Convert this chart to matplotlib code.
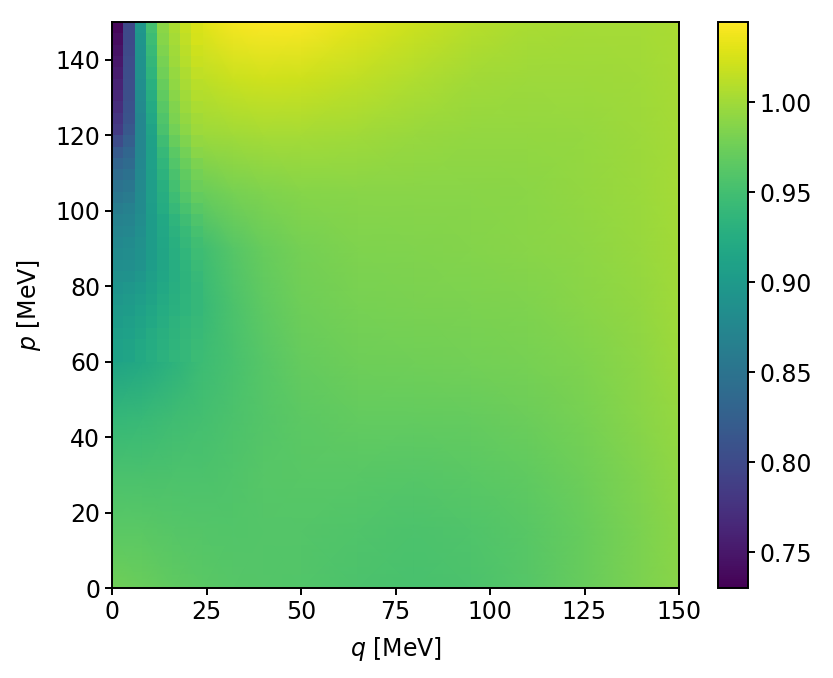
"""Heat map of the ratio over (q, p): smooth mesh everywhere, fine cells at low q and high p."""
import numpy as np
import matplotlib
matplotlib.use("Agg")
import matplotlib.pyplot as plt

plt.rcParams["font.size"] = 17
plt.rcParams["mathtext.fontset"] = "dejavusans"

VMIN, VMAX = 0.73, 1.0445

# nodes of the smooth background
mesh_q = [0, 8, 16, 24, 32, 40, 50, 65, 80, 95, 110, 125, 140, 150]
mesh_p = [0, 15, 30, 45, 60, 75, 90, 105, 120, 135, 150]
mesh_values = [
    [0.976, 0.973, 0.968, 0.964, 0.961, 0.960, 0.959, 0.955, 0.953, 0.955, 0.961, 0.971, 0.982, 0.988],
    [0.964, 0.964, 0.962, 0.960, 0.959, 0.960, 0.960, 0.958, 0.956, 0.958, 0.963, 0.972, 0.983, 0.990],
    [0.954, 0.954, 0.955, 0.956, 0.958, 0.961, 0.963, 0.963, 0.962, 0.964, 0.968, 0.975, 0.985, 0.992],
    [0.940, 0.942, 0.947, 0.951, 0.955, 0.960, 0.965, 0.969, 0.969, 0.970, 0.974, 0.980, 0.988, 0.995],
    [0.912, 0.920, 0.932, 0.945, 0.953, 0.961, 0.970, 0.975, 0.976, 0.977, 0.980, 0.984, 0.991, 0.998],
    [0.895, 0.905, 0.922, 0.942, 0.955, 0.966, 0.975, 0.980, 0.981, 0.982, 0.984, 0.988, 0.994, 1.000],
    [0.870, 0.885, 0.925, 0.948, 0.961, 0.971, 0.979, 0.984, 0.985, 0.986, 0.988, 0.991, 0.996, 1.001],
    [0.840, 0.875, 0.935, 0.973, 0.980, 0.984, 0.987, 0.989, 0.989, 0.989, 0.990, 0.993, 0.997, 1.002],
    [0.790, 0.870, 0.965, 0.997, 1.000, 1.002, 1.002, 1.000, 0.996, 0.994, 0.994, 0.995, 0.998, 1.002],
    [0.760, 0.880, 0.990, 1.013, 1.019, 1.022, 1.021, 1.015, 1.007, 1.001, 0.998, 0.998, 1.000, 1.003],
    [0.735, 0.890, 1.000, 1.030, 1.040, 1.044, 1.043, 1.032, 1.021, 1.011, 1.005, 1.002, 1.002, 1.004],
]

# fine flat cells, 3 MeV square, p = 60..150 and q = 0..24
strip_q_edges = [0, 3, 6, 9, 12, 15, 18, 21, 24]
strip_p_edges = [60, 63, 66, 69, 72, 75, 78, 81, 84, 87, 90, 93, 96, 99, 102, 105, 108, 111,
                 114, 117, 120, 123, 126, 129, 132, 135, 138, 141, 144, 147, 150]
strip_values = [
    [0.911, 0.914, 0.920, 0.926, 0.931, 0.936, 0.940, 0.944],
    [0.909, 0.912, 0.918, 0.924, 0.930, 0.935, 0.939, 0.943],
    [0.906, 0.909, 0.915, 0.922, 0.928, 0.933, 0.938, 0.942],
    [0.903, 0.906, 0.912, 0.919, 0.926, 0.932, 0.937, 0.941],
    [0.900, 0.903, 0.909, 0.916, 0.923, 0.930, 0.935, 0.940],
    [0.897, 0.900, 0.905, 0.913, 0.921, 0.928, 0.934, 0.940],
    [0.893, 0.896, 0.901, 0.910, 0.919, 0.927, 0.933, 0.940],
    [0.888, 0.890, 0.896, 0.906, 0.916, 0.926, 0.933, 0.941],
    [0.884, 0.886, 0.892, 0.904, 0.915, 0.926, 0.934, 0.943],
    [0.881, 0.883, 0.890, 0.903, 0.915, 0.927, 0.936, 0.945],
    [0.877, 0.880, 0.888, 0.903, 0.916, 0.929, 0.939, 0.948],
    [0.873, 0.876, 0.885, 0.903, 0.917, 0.931, 0.942, 0.952],
    [0.868, 0.872, 0.883, 0.903, 0.919, 0.935, 0.947, 0.957],
    [0.862, 0.867, 0.881, 0.904, 0.923, 0.941, 0.953, 0.963],
    [0.855, 0.860, 0.880, 0.905, 0.926, 0.946, 0.959, 0.969],
    [0.848, 0.854, 0.879, 0.905, 0.929, 0.950, 0.964, 0.974],
    [0.840, 0.847, 0.878, 0.906, 0.932, 0.954, 0.968, 0.978],
    [0.831, 0.839, 0.877, 0.907, 0.936, 0.959, 0.973, 0.983],
    [0.819, 0.832, 0.876, 0.908, 0.941, 0.964, 0.978, 0.988],
    [0.802, 0.824, 0.875, 0.910, 0.947, 0.971, 0.984, 0.994],
    [0.785, 0.815, 0.875, 0.913, 0.954, 0.978, 0.990, 0.998],
    [0.778, 0.811, 0.876, 0.917, 0.958, 0.982, 0.993, 1.001],
    [0.771, 0.808, 0.879, 0.921, 0.963, 0.985, 0.997, 1.004],
    [0.765, 0.806, 0.882, 0.926, 0.968, 0.989, 1.000, 1.008],
    [0.760, 0.804, 0.885, 0.930, 0.972, 0.992, 1.003, 1.011],
    [0.755, 0.803, 0.888, 0.934, 0.976, 0.995, 1.006, 1.014],
    [0.750, 0.802, 0.890, 0.938, 0.980, 0.998, 1.009, 1.018],
    [0.745, 0.801, 0.892, 0.942, 0.984, 1.000, 1.012, 1.021],
    [0.740, 0.800, 0.894, 0.946, 0.987, 1.002, 1.015, 1.024],
    [0.735, 0.800, 0.896, 0.950, 0.990, 1.004, 1.017, 1.026],
]

colorbar_ticks = [0.75, 0.80, 0.85, 0.90, 0.95, 1.00]

fig = plt.figure(figsize=(8.33, 6.78), dpi=100)
ax = fig.add_axes([112 / 833, 1 - 588 / 678, 567 / 833, 566 / 678])
cax = fig.add_axes([718 / 833, 1 - 588 / 678, 30 / 833, 566 / 678])

ax.pcolormesh(mesh_q, mesh_p, np.array(mesh_values), shading="gouraud",
              cmap="viridis", vmin=VMIN, vmax=VMAX)
cells = ax.pcolormesh(strip_q_edges, strip_p_edges, np.array(strip_values), shading="flat",
                      cmap="viridis", vmin=VMIN, vmax=VMAX, linewidth=0)
ax.set_xlim(0, 150)
ax.set_ylim(0, 150)
ax.set_xticks([0, 25, 50, 75, 100, 125, 150])
ax.set_yticks([0, 20, 40, 60, 80, 100, 120, 140])
ax.set_xlabel("$q$ [MeV]", labelpad=8)
ax.set_ylabel("$p$ [MeV]", labelpad=9)
ax.tick_params(width=1.4, length=5)
for spine in ax.spines.values():
    spine.set_linewidth(1.4)

cb = fig.colorbar(cells, cax=cax, ticks=colorbar_ticks)
cb.ax.set_yticklabels([f"{t:.2f}" for t in colorbar_ticks])
cb.ax.tick_params(width=1.4, length=5)
cb.outline.set_linewidth(1.4)

fig.savefig("out.png", dpi=100)
